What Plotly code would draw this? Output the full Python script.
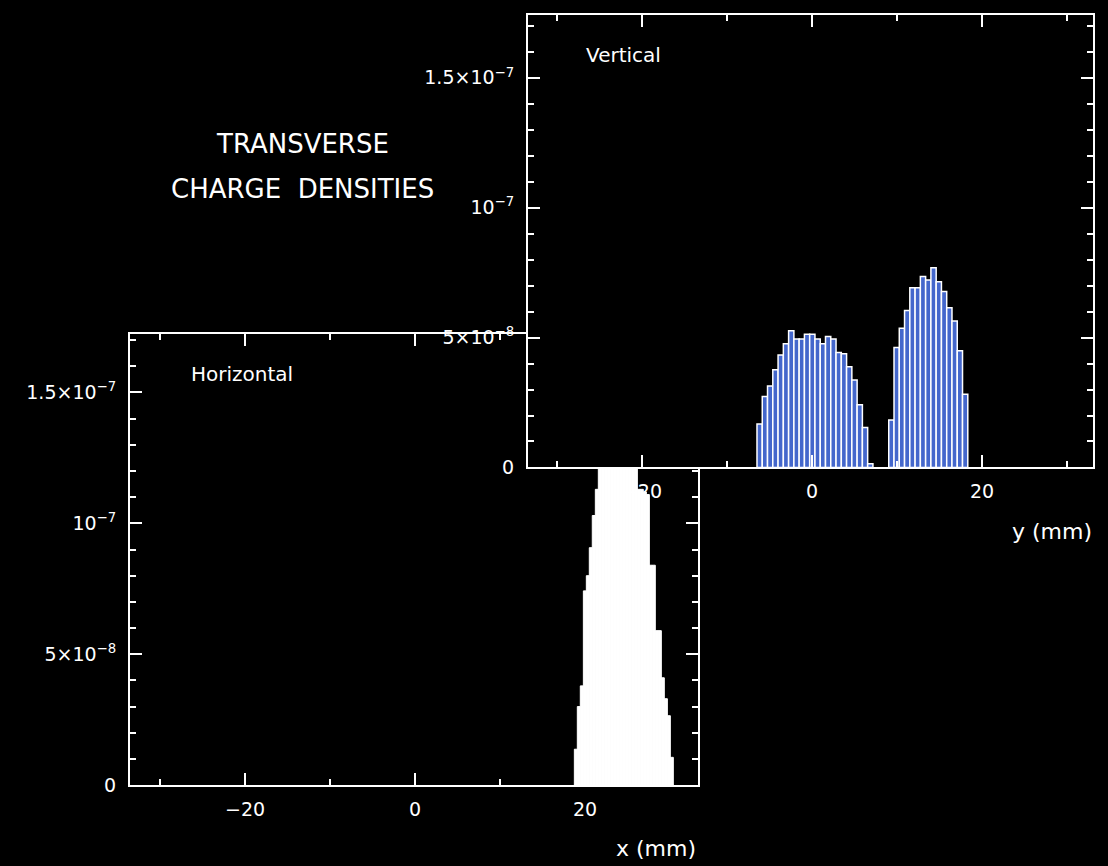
import plotly.graph_objects as go

# ---------------- data ----------------
# Horizontal charge density (x in mm)
h_x_mm = [18.92, 19.27, 19.62, 19.98, 20.33, 20.68, 21.03, 21.39, 21.74, 22.09,
          22.45, 22.80, 23.15, 23.51, 23.86, 24.21, 24.57, 24.92, 25.27, 25.62,
          25.98, 26.33, 26.68, 27.04, 27.39, 27.74, 28.09, 28.45, 28.80, 29.15,
          29.51, 29.86, 30.21]
h_density = [1.37e-8, 3.0e-8, 3.79e-8, 7.42e-8, 8.0e-8, 9.07e-8, 1.03e-7, 1.13e-7, 1.25e-7, 1.32e-7,
             1.38e-7, 1.42e-7, 1.47e-7, 1.50e-7, 1.52e-7, 1.55e-7, 1.53e-7, 1.50e-7, 1.46e-7, 1.40e-7,
             1.30e-7, 1.13e-7, 1.13e-7, 1.12e-7, 1.11e-7, 8.4e-8, 8.4e-8, 5.9e-8, 5.9e-8, 4.1e-8,
             3.3e-8, 2.65e-8, 1.06e-8]

# Vertical charge density (y in mm)
v_y_mm = [-6.16, -5.54, -4.92, -4.30, -3.68, -3.06, -2.44, -1.82, -1.20, -0.58,
          0.04, 0.66, 1.28, 1.90, 2.52, 3.14, 3.76, 4.38, 5.00, 5.62,
          6.24, 6.86,
          9.34, 9.96, 10.58, 11.20, 11.82, 12.44, 13.06, 13.68, 14.30, 14.92,
          15.54, 16.16, 16.78, 17.40, 18.02]
v_density = [1.67e-8, 2.73e-8, 3.14e-8, 3.76e-8, 4.33e-8, 4.76e-8, 5.26e-8, 4.95e-8, 4.95e-8, 5.13e-8,
             5.13e-8, 4.95e-8, 4.76e-8, 5.04e-8, 4.95e-8, 4.43e-8, 4.38e-8, 3.88e-8, 3.37e-8, 2.41e-8,
             1.54e-8, 0.14e-8,
             1.83e-8, 4.62e-8, 5.36e-8, 6.04e-8, 6.92e-8, 6.92e-8, 7.35e-8, 7.22e-8, 7.69e-8, 7.15e-8,
             6.77e-8, 6.15e-8, 5.64e-8, 4.49e-8, 2.82e-8]

y_tickvals = [0, 5e-8, 1e-7, 1.5e-7]
y_ticktext = ["0", "5×10<sup>−8</sup>", "10<sup>−7</sup>", "1.5×10<sup>−7</sup>"]
x_tickvals = [-20, 0, 20]
x_ticktext = ["−20", "0", "20"]
x_minor = [-30, -10, 10, 30]
y_minor = [i * 1e-8 for i in range(1, 18) if i % 5 != 0]

# ---------------- figure ----------------
W, H = 1108, 866
H_EFF = 856  # vertical positioning reference
FONT = "DejaVu Sans"


def px_x(p):
    return p / W


def px_y(p):
    return 1 - p / H_EFF


def axis(**kw):
    d = dict(showgrid=False, zeroline=False, showline=True, linecolor="white", linewidth=2,
             mirror="ticks", ticks="inside", ticklen=12, tickwidth=2, tickcolor="white",
             tickfont=dict(family=FONT, size=19, color="white"), fixedrange=True)
    d.update(kw)
    return d


def minor(vals):
    return dict(tickmode="array", tickvals=vals, ticks="inside", ticklen=6,
                tickwidth=2, tickcolor="white")


fig = go.Figure()
fig.add_trace(go.Bar(x=h_x_mm, y=h_density, width=0.353,
                     marker=dict(color="white", line=dict(color="white", width=1)),
                     xaxis="x", yaxis="y", hoverinfo="skip"))
fig.add_trace(go.Bar(x=v_y_mm, y=v_density, width=0.62,
                     marker=dict(color="#4467cc", line=dict(color="white", width=1.5)),
                     xaxis="x2", yaxis="y2", hoverinfo="skip"))

fig.update_layout(
    width=W, height=H,
    margin=dict(l=0, r=0, t=0, b=0),
    paper_bgcolor="black", plot_bgcolor="black",
    showlegend=False,
    xaxis=axis(domain=[px_x(130), px_x(698)], range=[-33.53, 33.29], anchor="y",
               tickmode="array", tickvals=x_tickvals, ticktext=x_ticktext, ticklabelstandoff=6,
               minor=minor(x_minor)),
    yaxis=axis(domain=[px_y(786), px_y(334)], range=[0, 1.725e-7], anchor="x",
               tickmode="array", tickvals=y_tickvals, ticktext=y_ticktext, ticklabelstandoff=8,
               minor=minor(y_minor)),
    xaxis2=axis(domain=[px_x(528), px_x(1093)], range=[-33.41, 33.06], anchor="y2",
                tickmode="array", tickvals=x_tickvals, ticktext=x_ticktext, ticklabelstandoff=6,
                minor=minor(x_minor)),
    yaxis2=axis(domain=[px_y(468), px_y(15)], range=[0, 1.742e-7], anchor="x2",
                tickmode="array", tickvals=y_tickvals, ticktext=y_ticktext, ticklabelstandoff=8,
                minor=minor(y_minor)),
)

ann_font = dict(family=FONT, color="white")
annotations = [
    dict(text="TRANSVERSE", x=px_x(302), y=px_y(144), xanchor="center", yanchor="middle",
         font=dict(size=26, **ann_font)),
    dict(text="CHARGE  DENSITIES", x=px_x(302), y=px_y(189), xanchor="center", yanchor="middle",
         font=dict(size=26, **ann_font)),
    dict(text="Horizontal", x=px_x(189), y=px_y(374), xanchor="left", yanchor="middle",
         font=dict(size=20, **ann_font)),
    dict(text="Vertical", x=px_x(584), y=px_y(55), xanchor="left", yanchor="middle",
         font=dict(size=20, **ann_font)),
    dict(text="x (mm)", x=px_x(698), y=px_y(849), xanchor="right", yanchor="middle",
         font=dict(size=22, **ann_font)),
    dict(text="y (mm)", x=px_x(1094), y=px_y(532), xanchor="right", yanchor="middle",
         font=dict(size=22, **ann_font)),
]
for a in annotations:
    a.update(xref="paper", yref="paper", showarrow=False)
fig.update_layout(annotations=annotations)

fig.write_html("out.html")
